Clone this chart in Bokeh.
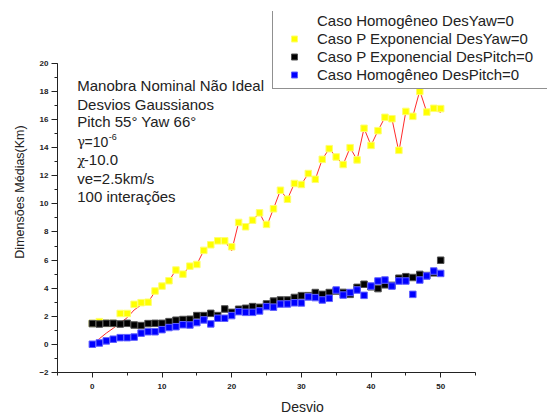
from bokeh.plotting import figure
from bokeh.models import Range1d, SingleIntervalTicker, Legend, LegendItem, Label
from bokeh.embed import file_html
from bokeh.resources import INLINE

# ---------------- data ----------------
desvio = list(range(51))

homog_desyaw = [0.0, 0.4, 0.8, 1.15, 1.53, 1.9, 2.45, 2.8, 3.0, 3.75,
                4.15, 4.53, 5.29, 5.0, 5.57, 5.69, 6.69, 7.09, 7.37, 7.37,
                6.66, 8.68, 8.37, 8.84, 9.36, 8.37, 9.65, 10.97, 10.33, 11.45,
                11.38, 12.16, 11.75, 13.17, 13.93, 13.34, 12.8, 14.0, 13.13, 15.38,
                14.16, 15.21, 16.16, 16.06, 13.7, 16.58, 16.23, 18.05, 16.53, 16.8,
                16.5]

pexp_desyaw = [1.5, 1.62, 1.5, 1.5, 2.2, 2.2, 2.85, 2.97, 3.0, 3.8,
               4.15, 4.53, 5.29, 5.0, 5.57, 5.69, 6.69, 7.09, 7.37, 7.37,
               6.95, 8.68, 8.37, 8.84, 9.36, 8.54, 9.65, 10.97, 10.33, 11.45,
               11.38, 12.16, 11.75, 13.17, 13.93, 13.34, 12.8, 14.0, 13.13, 15.38,
               14.16, 15.21, 16.16, 16.06, 13.81, 16.58, 16.23, 18.0, 16.53, 16.8,
               16.78]

pexp_despitch = [1.48, 1.45, 1.5, 1.5, 1.45, 1.5, 1.38, 1.34, 1.48, 1.5,
                 1.5, 1.62, 1.72, 1.77, 1.79, 2.05, 2.05, 2.21, 2.05, 2.52,
                 2.28, 2.5, 2.57, 2.69, 2.64, 2.88, 3.08, 3.16, 3.16, 3.34,
                 3.47, 3.47, 3.69, 3.56, 3.69, 3.8, 3.7, 3.56, 4.06, 4.28,
                 4.1, 3.97, 4.24, 4.2, 4.71, 4.82, 4.76, 4.98, 4.9, 5.09,
                 5.99]

homog_despitch = [0.01, 0.1, 0.25, 0.37, 0.48, 0.48, 0.52, 0.8, 0.9, 0.9,
                  1.05, 1.2, 1.26, 1.4, 1.38, 1.55, 1.74, 1.46, 1.86, 1.86,
                  2.05, 2.33, 2.28, 2.28, 2.38, 2.69, 2.65, 2.87, 2.88, 2.96,
                  2.95, 3.38, 3.33, 3.16, 3.28, 3.87, 3.51, 3.69, 3.87, 3.49,
                  4.15, 4.51, 4.58, 4.15, 4.51, 4.51, 3.56, 4.58, 4.87, 5.22,
                  5.05]

legend_labels = ["Caso Homogêneo DesYaw=0",
                 "Caso P Exponencial DesYaw=0",
                 "Caso P Exponencial DesPitch=0",
                 "Caso Homogêneo DesPitch=0"]

info_lines = ["Manobra Nominal Não Ideal",
              "Desvios Gaussianos",
              "Pitch 55° Yaw 66°",
              "",
              "",
              "ve=2.5km/s",
              "100 interações"]
info_y = [18.40, 17.10, 15.84, 14.42, 13.12, 11.82, 10.52]
info_x = -2.17

FONT = "Liberation Sans"
TXT = "#222222"

# ---------------- figure ----------------
# the frame also covers the legend area (top/right); the axes are bounded
p = figure(width=547, height=417,
           x_range=Range1d(-5, 65.33), y_range=Range1d(-2, 23.69),
           output_backend="svg", toolbar_location=None,
           min_border_left=57, min_border_right=0,
           min_border_top=11, min_border_bottom=44)
p.outline_line_color = None
p.grid.visible = False
p.background_fill_color = "white"

r_red = p.line(desvio, homog_desyaw, line_color="#ff2a2a", line_width=1)
r_yel = p.scatter(desvio, pexp_desyaw, marker="square", size=6.5,
                  fill_color="#ffff00", line_color="#ffff70", line_width=1)
r_blk = p.scatter(desvio, pexp_despitch, marker="square", size=6.5,
                  fill_color="#000000", line_color="#505050", line_width=1)
r_blu = p.scatter(desvio, homog_despitch, marker="square", size=6.5,
                  fill_color="#0000ff", line_color="#6060ff", line_width=1)
r_dummy = p.scatter(desvio, homog_desyaw, marker="square", size=1,
                    fill_alpha=0, line_alpha=0)

# axes
for ax in (p.xaxis[0], p.yaxis[0]):
    ax.axis_line_color = TXT
    ax.major_tick_line_color = TXT
    ax.minor_tick_line_color = TXT
    ax.major_tick_in = 0
    ax.minor_tick_in = 0
    ax.minor_tick_out = 3
    ax.major_label_text_font = FONT
    ax.major_label_text_font_size = "8px"
    ax.major_label_text_font_style = "bold"
    ax.major_label_text_color = TXT
    ax.axis_label_text_font = FONT
    ax.axis_label_text_font_style = "normal"
    ax.axis_label_text_color = TXT

p.xaxis.bounds = (-5, 55)
p.yaxis.bounds = (-2, 20)
p.xaxis.ticker = SingleIntervalTicker(interval=10, num_minor_ticks=2)
p.yaxis.ticker = SingleIntervalTicker(interval=2, num_minor_ticks=2)
p.xaxis.major_tick_out = 5
p.yaxis.major_tick_out = 6
p.xaxis.major_label_standoff = 6
p.yaxis.major_label_standoff = 3
p.xaxis.axis_label = "Desvio"
p.xaxis.axis_label_text_font_size = "14px"
p.xaxis.axis_label_standoff = 7
p.yaxis.axis_label = "Dimensões Médias(Km)"
p.yaxis.axis_label_text_font_size = "12.5px"
p.yaxis.axis_label_standoff = 9

# legend
legend = Legend(items=[LegendItem(label=legend_labels[0], renderers=[r_dummy]),
                       LegendItem(label=legend_labels[1], renderers=[r_yel]),
                       LegendItem(label=legend_labels[2], renderers=[r_blk]),
                       LegendItem(label=legend_labels[3], renderers=[r_blu])],
                location=(215, 283), padding=5, spacing=0, margin=0,
                glyph_width=32, glyph_height=15, label_height=18,
                label_width=260, label_standoff=7,
                label_text_font=FONT, label_text_font_size="15px",
                label_text_color=TXT, label_text_baseline="middle",
                border_line_color=TXT, border_line_width=1,
                background_fill_color="white", background_fill_alpha=1.0)
p.add_layout(legend)

# info text
for txt, yy in zip(info_lines, info_y):
    if txt:
        p.add_layout(Label(x=info_x, y=yy, text=txt, text_font=FONT,
                           text_font_size="15px", text_color=TXT,
                           text_baseline="middle"))

# gamma line
p.add_layout(Label(x=info_x, y=info_y[3], text="γ", text_font="DejaVu Serif",
                   text_font_size="13px", text_color=TXT, text_baseline="middle"))
p.add_layout(Label(x=info_x, y=info_y[3], x_offset=7.3, text="=10", text_font=FONT,
                   text_font_size="14px", text_color=TXT, text_baseline="middle"))
p.add_layout(Label(x=info_x, y=info_y[3], x_offset=31.5, y_offset=4.4, text="-6",
                   text_font=FONT, text_font_size="9px", text_color=TXT,
                   text_baseline="middle"))
# chi line
p.add_layout(Label(x=info_x, y=info_y[4], text="χ", text_font="DejaVu Serif",
                   text_font_size="13px", text_color=TXT, text_baseline="middle"))
p.add_layout(Label(x=info_x, y=info_y[4], x_offset=6.6, text="-10.0", text_font=FONT,
                   text_font_size="15px", text_color=TXT, text_baseline="middle"))

open("out.html", "w").write(file_html(p, INLINE))
